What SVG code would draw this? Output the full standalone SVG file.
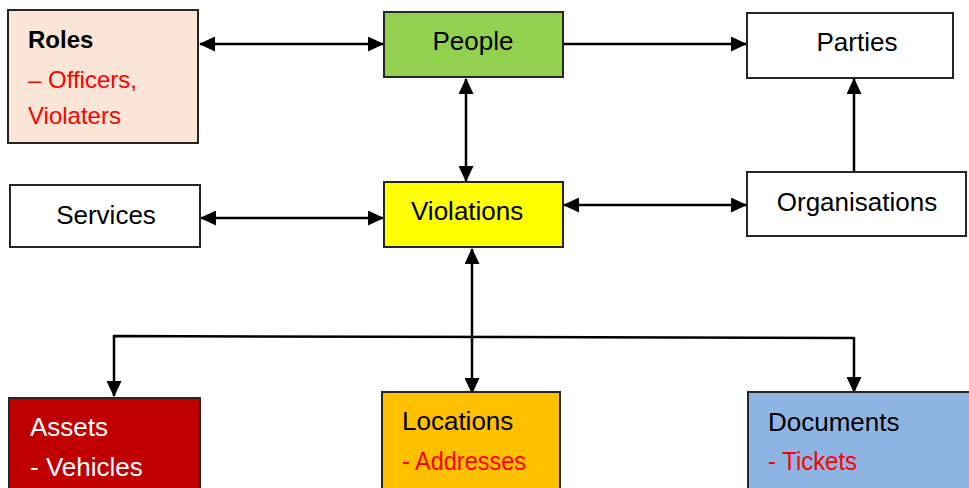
<svg xmlns="http://www.w3.org/2000/svg" width="969" height="488" viewBox="0 0 969 488">
<style>
.box{stroke:#262626;stroke-width:2}
.t{font-family:"Liberation Sans",Arial,sans-serif;font-size:26px;fill:#000}
.s{font-size:24px}
.red{fill:#FF0000}
.wh{fill:#FFFFFF}
.c{stroke:#000;stroke-width:2.5;fill:none}
</style>
<defs>
<marker id="ah" markerUnits="userSpaceOnUse" markerWidth="16" markerHeight="15" refX="15" refY="7.5" orient="auto-start-reverse">
<path d="M0,0 L16,7.5 L0,15 Z" fill="#000"/>
</marker>
</defs>
<rect width="969" height="488" fill="#fff"/>
<g id="connectors">
<line class="c" x1="200" y1="44" x2="383" y2="44" marker-start="url(#ah)" marker-end="url(#ah)"/>
<line class="c" x1="564" y1="44" x2="746" y2="44" marker-end="url(#ah)"/>
<line class="c" x1="466" y1="79" x2="466" y2="181" marker-start="url(#ah)" marker-end="url(#ah)"/>
<line class="c" x1="201" y1="218" x2="383" y2="218" marker-start="url(#ah)" marker-end="url(#ah)"/>
<line class="c" x1="564" y1="205" x2="746" y2="205" marker-start="url(#ah)" marker-end="url(#ah)"/>
<line class="c" x1="854" y1="182" x2="854" y2="79" marker-end="url(#ah)"/>
<line class="c" x1="472" y1="249" x2="472" y2="393" marker-start="url(#ah)" marker-end="url(#ah)"/>
<polyline class="c" points="114,338 114,336 854,338"/>
<line class="c" x1="114" y1="337" x2="114" y2="396" marker-end="url(#ah)"/>
<line class="c" x1="854" y1="337" x2="854" y2="392" marker-end="url(#ah)"/>
</g>
<g id="roles">
<rect class="box" x="8" y="10" width="190" height="133" fill="#FBE5D6"/>
<text class="t s" x="28" y="48" font-weight="bold">Roles</text>
<text class="t s red" x="28" y="88">– Officers,</text>
<text class="t s red" x="28" y="124">Violaters</text>
</g>
<g id="people">
<rect class="box" x="384" y="12" width="179" height="65" fill="#92D050"/>
<text class="t" x="473" y="50" text-anchor="middle">People</text>
</g>
<g id="parties">
<rect class="box" x="747" y="13" width="206" height="65" fill="#FFFFFF"/>
<text class="t" x="857" y="51" text-anchor="middle">Parties</text>
</g>
<g id="services">
<rect class="box" x="10" y="185" width="190" height="62" fill="#FFFFFF"/>
<text class="t" x="106" y="224" text-anchor="middle" font-size="25">Services</text>
</g>
<g id="violations">
<rect class="box" x="384" y="182" width="179" height="65" fill="#FFFF00"/>
<text class="t" x="411" y="220">Violations</text>
</g>
<g id="organisations">
<rect class="box" x="747" y="172" width="219" height="64" fill="#FFFFFF"/>
<text class="t" x="857" y="211" text-anchor="middle">Organisations</text>
</g>
<g id="assets">
<rect class="box" x="9" y="398" width="191" height="100" fill="#C00000"/>
<text class="t wh" x="30" y="436">Assets</text>
<text class="t wh" x="30" y="476">- Vehicles</text>
</g>
<g id="locations">
<rect class="box" x="382" y="392" width="178" height="106" fill="#FFC000"/>
<text class="t" x="402" y="430">Locations</text>
<text class="t red" x="402" y="470" textLength="124" lengthAdjust="spacingAndGlyphs">- Addresses</text>
</g>
<g id="documents">
<rect class="box" x="748" y="392" width="230" height="106" fill="#8EB4E3"/>
<text class="t" x="768" y="431">Documents</text>
<text class="t red" x="768" y="470" textLength="89" lengthAdjust="spacingAndGlyphs">- Tickets</text>
</g>
</svg>
